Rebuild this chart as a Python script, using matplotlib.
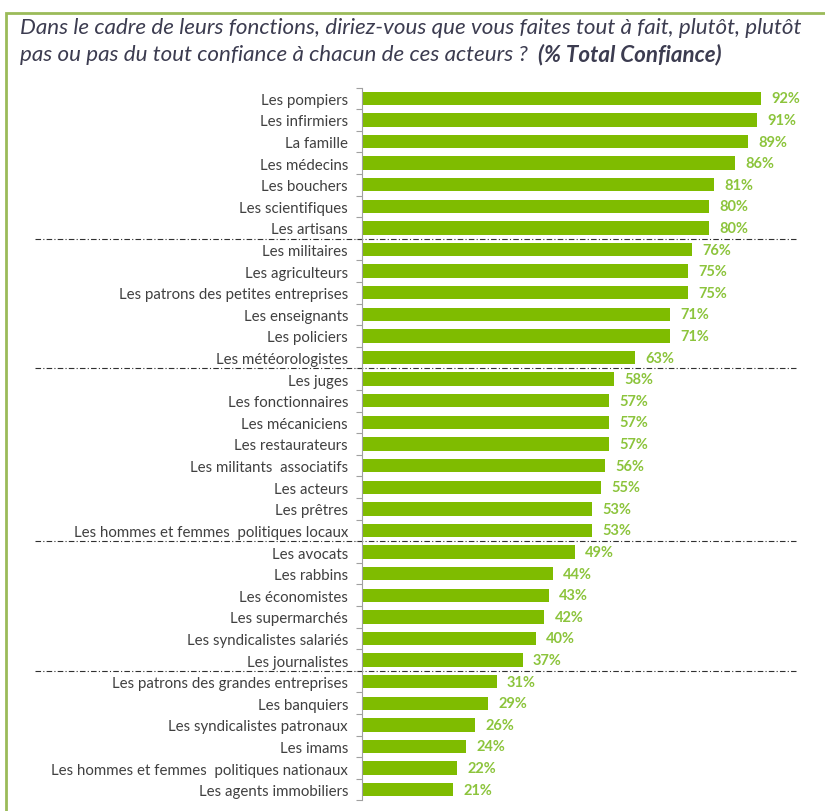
import matplotlib
matplotlib.use("Agg")
from matplotlib import pyplot as plt
from matplotlib.patches import Rectangle

plt.rcParams["font.family"] = ["Lato", "DejaVu Sans"]

labels = [
    "Les pompiers", "Les infirmiers", "La famille", "Les médecins", "Les bouchers",
    "Les scientifiques", "Les artisans", "Les militaires", "Les agriculteurs",
    "Les patrons des petites entreprises", "Les enseignants", "Les policiers",
    "Les météorologistes", "Les juges", "Les fonctionnaires", "Les mécaniciens",
    "Les restaurateurs", "Les militants  associatifs", "Les acteurs", "Les prêtres",
    "Les hommes et femmes  politiques locaux", "Les avocats", "Les rabbins",
    "Les économistes", "Les supermarchés", "Les syndicalistes salariés",
    "Les journalistes", "Les patrons des grandes entreprises", "Les banquiers",
    "Les syndicalistes patronaux", "Les imams",
    "Les hommes et femmes  politiques nationaux", "Les agents immobiliers",
]
values = [92, 91, 89, 86, 81, 80, 80, 76, 75, 75, 71, 71, 63, 58, 57, 57, 57, 56,
          55, 53, 53, 49, 44, 43, 42, 40, 37, 31, 29, 26, 24, 22, 21]
# groups end after these indices
group_breaks = [6, 12, 20, 26]

title_1 = "Dans le cadre de leurs fonctions, diriez-vous que vous faites tout à fait, plutôt, plutôt"
title_2 = "pas ou pas du tout confiance à chacun de ces acteurs ?  "
title_3 = "(% Total Confiance)"

BAR = "#7fbc00"
VAL = "#8cc43c"
TXT = "#404040"
TITLE = "#3c3c50"

W, H = 825, 812
fig = plt.figure(figsize=(W / 100, H / 100), dpi=100)

n = len(labels)
top_px, bot_px = 88.5, 801.5
ax = fig.add_axes([362 / W, 1 - bot_px / H, 434 / W, (bot_px - top_px) / H])
ypos = list(range(n))
ax.barh(ypos, values, height=0.62, color=BAR)
ax.set_xlim(0, 100)
ax.set_ylim(n - 0.5, -0.5)

for y, v in zip(ypos, values):
    ax.annotate(f"{v}%", (v, y), xytext=(7.5, 0), textcoords="offset points",
                va="center", ha="left", fontsize=10.5, fontweight="bold", color=VAL)

ax.set_yticks(ypos)
ax.set_yticklabels(labels, fontsize=10.8, color=TXT)
ax.set_yticks([i - 0.5 for i in range(n + 1)], minor=True)
ax.tick_params(axis="y", which="major", length=0, pad=10)
ax.tick_params(axis="y", which="minor", length=4, color="#a0a0a0", width=0.8)
ax.set_xticks([])
for side in ["top", "right", "bottom"]:
    ax.spines[side].set_visible(False)
ax.spines["left"].set_color("#a0a0a0")
ax.spines["left"].set_linewidth(0.8)

for b in group_breaks:
    ax.plot([-327 / 4.34, 100], [b + 0.5, b + 0.5], color="#303030", lw=0.8,
            linestyle=(0, (5, 2, 1, 2)), clip_on=False)

# frame
fig.patches.append(Rectangle((6 / W, -0.1), 1.2, 1 - 14 / H + 0.1,
                             transform=fig.transFigure, fill=False,
                             edgecolor="#9bbb59", lw=2))

# title: scale font so that the first line spans about the same width as the original
t1 = fig.text(20 / W, 1 - 28 / H, title_1, fontsize=14, style="italic", color=TITLE,
              va="center", ha="left")
fig.canvas.draw()
fs = 14 * 786 / t1.get_window_extent().width
t1.set_fontsize(fs)
t2 = fig.text(20 / W, 1 - 55 / H, title_2, fontsize=fs, style="italic", color=TITLE,
              va="center", ha="left")
fig.canvas.draw()
bb = t2.get_window_extent()
fig.text(bb.x1 / W, 1 - 55 / H, title_3, fontsize=fs, style="italic",
         fontweight="bold", color=TITLE, va="center", ha="left")

fig.savefig("out.png", dpi=100)
